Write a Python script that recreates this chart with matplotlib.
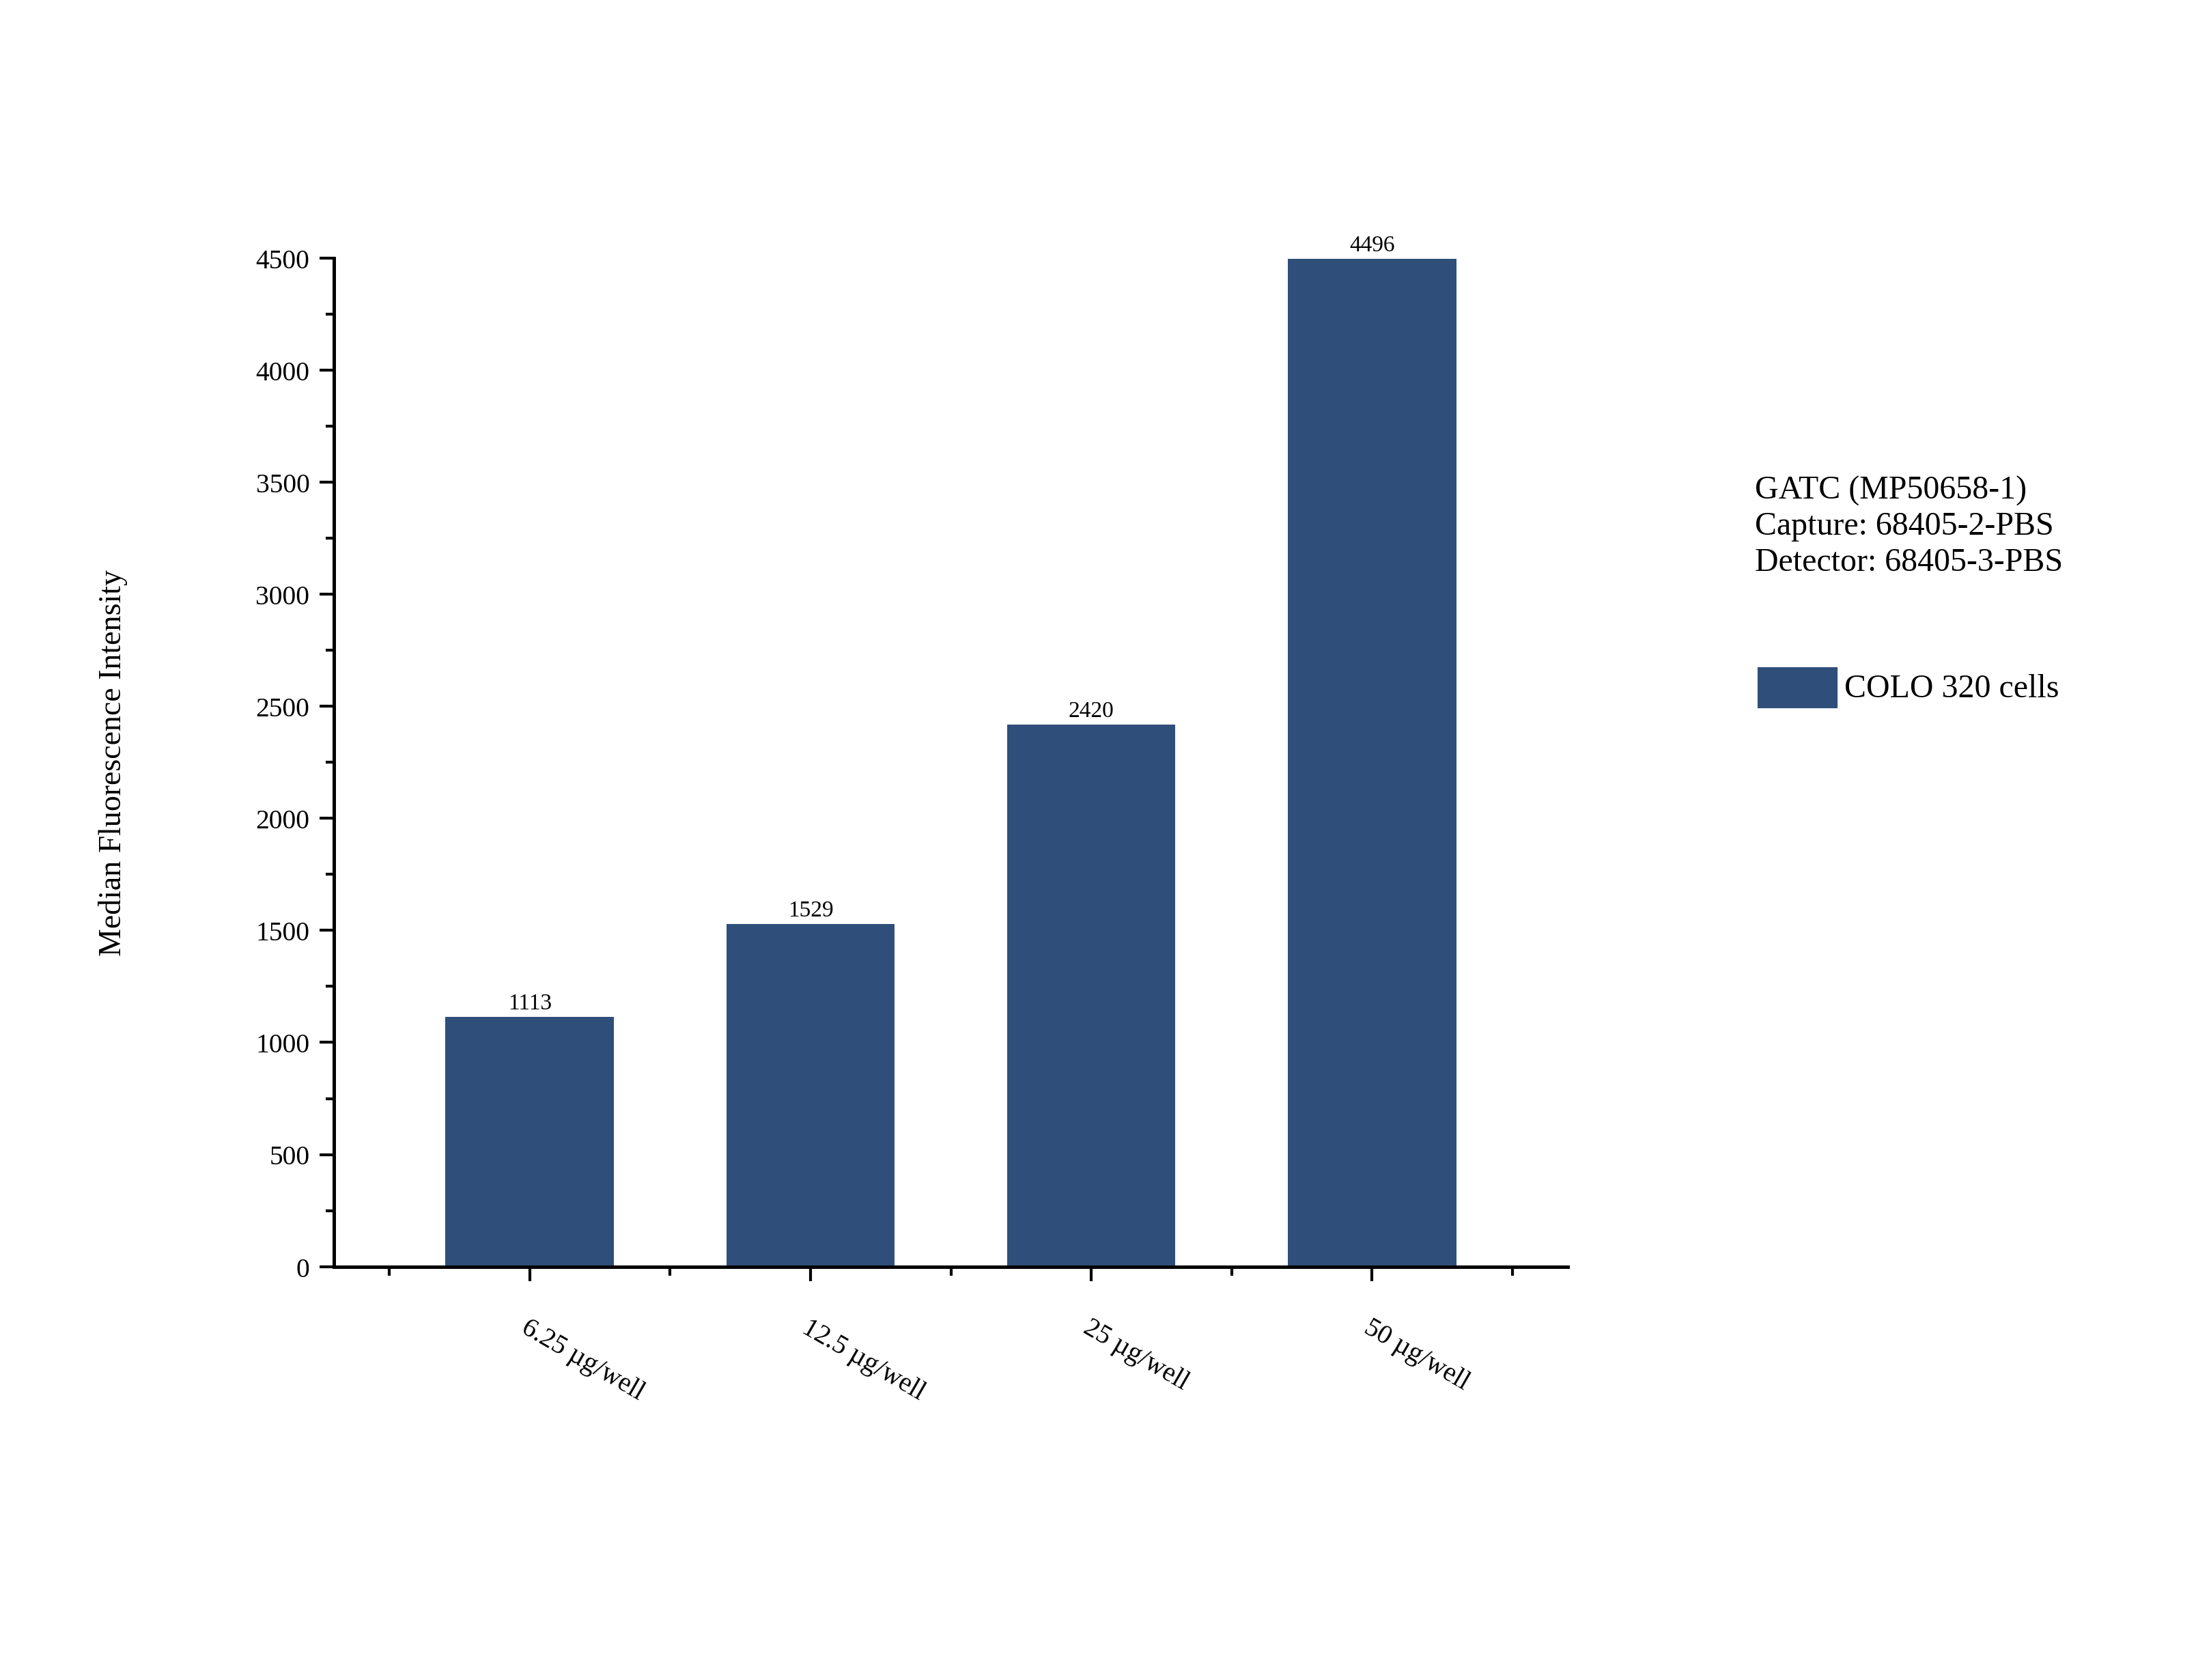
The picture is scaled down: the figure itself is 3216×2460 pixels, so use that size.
import matplotlib
matplotlib.use("Agg")
import matplotlib.pyplot as plt
from matplotlib.ticker import MultipleLocator
from matplotlib.patches import Rectangle

categories = ["6.25 µg/well", "12.5 µg/well", "25 µg/well", "50 µg/well"]
values = [1113, 1529, 2420, 4496]
series_name = "COLO 320 cells"
info_lines = ["GATC (MP50658-1)", "Capture: 68405-2-PBS", "Detector: 68405-3-PBS"]
color = "#2F4F7A"

plt.rcParams['font.family'] = ['Liberation Serif', 'DejaVu Serif']
fig = plt.figure(figsize=(10.72, 8.203), dpi=300)
ax = fig.add_axes([0.152, 0.246, 0.562, 0.600])
x = list(range(len(categories)))
bars = ax.bar(x, values, width=0.6, color=color)
for xi, v in zip(x, values):
    ax.text(xi, v + 15, str(v), ha='center', va='bottom', fontsize=8)
ax.set_xlim(-0.698, 3.698)
ax.set_ylim(0, 4500)
ax.set_xticks(x)
ax.set_xticklabels(categories, rotation=-30, ha='left', rotation_mode='anchor', fontsize=10)
ax.set_xticks([i - 0.5 for i in range(5)], minor=True)
ax.yaxis.set_major_locator(MultipleLocator(500))
ax.yaxis.set_minor_locator(MultipleLocator(250))
ax.tick_params(axis='both', direction='out', length=5, width=1, labelsize=9.5)
ax.tick_params(axis='both', which='minor', direction='out', length=3, width=1)
ax.tick_params(axis='x', pad=12)
for s in ['top', 'right']:
    ax.spines[s].set_visible(False)
for s in ['left', 'bottom']:
    ax.spines[s].set_linewidth(1.2)
ax.set_ylabel("Median Fluorescence Intensity", fontsize=11, labelpad=45)

fig.text(0.799, 0.717, "\n".join(info_lines), fontsize=11.5, va='top', ha='left', linespacing=1.25)
fig.patches.append(Rectangle((0.801, 0.579), 0.035, 0.023, transform=fig.transFigure, color=color))
fig.text(0.840, 0.590, series_name, fontsize=11.5, va='center', ha='left')

fig.savefig("out.png", dpi=300)
